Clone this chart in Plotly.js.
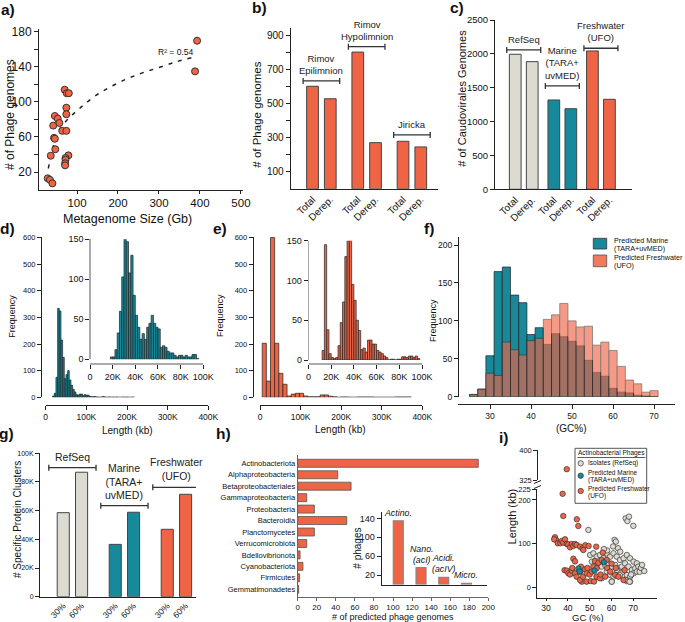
<!DOCTYPE html>
<html>
<head>
<meta charset="utf-8">
<script src="https://cdn.plot.ly/plotly-3.0.1.min.js"></script>
<style>html,body{margin:0;padding:0;background:#fff}#chart{width:685px;height:622px}</style>
</head>
<body>
<div id="chart"></div>
<script>
// a) phage genomes vs metagenome size
const metaSizeGb = [28.5, 34, 40, 36, 42, 46, 53, 57, 44, 46, 47, 64, 70, 75, 80, 74, 74, 74, 79, 72, 72, 71, 71, 393, 388];
const phageGenomes = [12.8, 11, 7, 38.6, 73, 84, 81, 76, 59, 58, 46, 67, 114, 110, 110, 93.5, 86, 67, 39, 36, 34, 30, 27.6, 170, 135];
const trendSize = [30, 42, 54, 75, 107, 148, 197, 246, 294, 343, 382];
const trendGenomes = [24, 49, 66, 79, 93, 108, 121, 131, 138.5, 146, 151];

// b) phage genomes per site
const sitesB = ['Rimov<br>Epilimnion', 'Rimov<br>Hypolimnion', 'Jiricka'];
const barLabels = ['Total', 'Derep.'];
const totalB = [600, 800, 278];
const derepB = [527, 270, 245];

// c) Caudovirales genomes
const groupsC = ['RefSeq', 'Marine<br>(TARA+<br>uvMED)', 'Freshwater<br>(UFO)'];
const totalC = [1994, 1319, 2043];
const derepC = [1885, 1190, 1329];

// d) marine genome length histogram (kb)
const dBinStart = 17, dBinSize = 4.1;
const dCounts = [5, 15, 75, 334, 324, 215, 150, 70, 85, 100, 65, 45, 30, 20, 10, 8, 12, 12, 6, 10, 8, 8, 3, 2, 2, 3, 1, 1, 0, 1, 3, 1, 0, 1, 1, 0, 1, 0, 1, 0, 0, 0, 1, 0, 1, 0, 0, 0, 1];
const dInsetStart = 18, dInsetSize = 2;
const dInsetCounts = [3, 3, 12, 33, 60, 103, 151, 147, 108, 130, 80, 55, 40, 25, 32, 25, 40, 45, 55, 45, 40, 38, 15, 17, 15, 10, 8, 8, 5, 3, 5, 5, 3, 5, 3, 3, 6, 6, 1];

// e) freshwater genome length histogram (kb)
const eBinStart = 5.5, eBinSize = 10.2;
const eCounts = [203, 61, 600, 203, 90, 49, 5, 12, 15, 15, 5, 2, 2, 2, 9, 9, 4, 2, 0, 1, 1, 0, 0, 1, 1, 1, 1, 0, 0, 0, 0, 0, 1, 1, 1, 1];
const eInsetStart = 12, eInsetSize = 2;
const eInsetCounts = [12, 145, 38, 8, 3, 2, 3, 18, 47, 73, 130, 150, 157, 95, 75, 50, 37, 13, 15, 10, 25, 25, 20, 20, 12, 10, 8, 5, 3, 0, 1, 1, 0, 1, 1, 4, 4, 3, 5, 5, 3, 5, 2];

// f) GC% histogram
const gcBinStart = 25, gcBinSize = 2;
const gcMarine = [3, 10, 54, 165, 171, 134, 124, 82, 91, 69, 83, 79, 73, 67, 48, 32, 27, 11, 6, 5, 2, 1, 0];
const gcFresh = [3, 10, 31, 28, 72, 62, 55, 74, 77, 102, 108, 123, 100, 92, 93, 68, 72, 61, 40, 22, 17, 6, 8];

// g) specific protein clusters (thousands)
const groupsG = ['RefSeq', 'Marine<br>(TARA+<br>uvMED)', 'Freshwater<br>(UFO)'];
const idLabels = ['30%', '60%'];
const clusters30 = [58.6, 36.5, 47];
const clusters60 = [86.8, 58.9, 71.4];

// h) predicted hosts
const hostTaxa = ['Actinobacteriota', 'Alphaproteobacteria', 'Betaproteobacteriales', 'Gammaproteobacteria', 'Proteobacteria', 'Bacteroidia', 'Planctomycetes', 'Verrucomicrobiota', 'Bdellovibrionota', 'Cyanobacteriota', 'Firmicutes', 'Gemmatimonadetes'];
const hostCounts = [189.5, 42, 56, 9.5, 17.5, 51.5, 17.5, 9.5, 2.5, 5.5, 2, 1];
const actinoGroups = ['<i>Actino.</i>', '<i>Nano.<br>(acI)</i>', '<i>Acidi.<br>(acIV)</i>', '<i>Micro.</i>'];
const actinoCounts = [135, 36, 15, 2.5];

// i) actinobacterial phages, GC (%) vs length (kb)
const isoGC = [50.2, 51.7, 53.2, 54.7, 56.3, 57.8, 59.4, 60.9, 62.4, 63.9, 65.5, 67.0, 68.5, 70.1, 71.6, 51.0, 52.5, 54.0, 55.5, 57.1, 58.6, 60.1, 61.7, 63.2, 64.7, 66.2, 67.8, 69.3, 70.8, 72.3, 57.8, 59.4, 60.9, 62.4, 63.9, 65.5, 67.0, 68.5, 70.1, 71.6, 60.1, 67.0, 68.5, 53.2, 55.5, 49.4, 66.5, 67.3, 68.0, 70.0, 61.4, 62.0, 60.7, 63.0, 60.1, 66.4, 68.3, 72.9, 73.5, 75.0, 74.0, 58.0, 64.0, 56.5, 69.0];
const isoLen = [74.6, 78.4, 70.8, 74.6, 67.0, 78.4, 70.8, 78.4, 70.8, 63.2, 67.0, 74.6, 67.0, 59.4, 55.6, 59.4, 51.8, 55.6, 48.0, 51.8, 55.6, 48.0, 51.8, 44.2, 48.0, 55.6, 48.0, 40.4, 44.2, 48.0, 36.6, 29.0, 25.2, 40.4, 29.0, 36.6, 29.0, 25.2, 32.8, 36.6, 13.8, 15.0, 13.8, 25.2, 21.4, 131.6, 158, 152, 162, 141, 109, 105, 94, 90, 13.7, 17.5, 13.7, 36.2, 45, 38, 52, 85, 82, 88, 30];
const marGC = [44.8, 45.4, 52.2, 56.5];
const marLen = [44, 37, 39, 58];
const freshGC = [34.1, 34.6, 33.7, 35.4, 36.5, 37.2, 37.9, 38.7, 39.5, 40.2, 41.0, 41.8, 42.5, 43.3, 44.0, 45.6, 46.8, 47.1, 48.0, 49.5, 53.0, 37.9, 44.1, 44.8, 37.6, 42.5, 43.3, 38.5, 39.5, 40.2, 41.0, 41.8, 42.0, 43.3, 44.0, 45.6, 46.0, 46.4, 45.6, 47.0, 47.9, 48.6, 48.6, 49.0, 50.0, 50.5, 51.0, 51.7, 52.0, 52.4, 53.2, 53.2, 54.0, 54.7, 55.0, 55.5, 56.0, 57.1, 57.8, 58.0, 59.4, 60.0, 61.7, 62.0, 63.2, 65.5, 66.0];
const freshLen = [114.9, 108.8, 110.3, 101.2, 101.2, 106.5, 102.7, 110.3, 99.6, 98.9, 92.0, 99.6, 95.1, 99.6, 97.4, 93.6, 89.8, 86.0, 97.0, 95.0, 93.5, 163.5, 156, 140.7, 214, 66, 60, 40, 38.9, 33, 30, 38.9, 45, 32.8, 25, 36.6, 48, 13.8, 17.6, 25, 41.9, 32.8, 13.8, 45, 30, 15, 36.6, 48.0, 14, 61, 44.2, 25.2, 57, 21.4, 30, 63.2, 80, 25.2, 63.2, 45, 36.6, 55, 29.0, 45, 25.2, 17.6, 40];
const freshUpperGC = [39.5];
const freshUpperLen = [352];

const ORANGE = '#EE6445', TEAL = '#17899B', GRAY = '#DCDBD2', DARK = '#222';
const W = 685, H = 622;
const px = x => x / W;
const py = y => 1 - y / H;
const dom = (a, b) => [a / W, b / W];
const domY = (top, bottom) => [1 - bottom / H, 1 - top / H];

const base = {showgrid: false, zeroline: false, showline: true, linecolor: DARK, linewidth: 1,
  ticks: 'outside', ticklen: 4, tickwidth: 1, tickcolor: DARK, fixedrange: true};
function axis(o) { return Object.assign({}, base, o); }

const traces = [];
const shapes = [];
const annotations = [];

function note(x, y, text, size, extra) {
  annotations.push(Object.assign({xref: 'paper', yref: 'paper', x: px(x), y: py(y), text: text,
    showarrow: false, xanchor: 'center', yanchor: 'middle', font: {size: size, color: '#111'}}, extra || {}));
}
function bracket(xa, ya, xc, half, y, label, size) {
  const ln = {color: '#333', width: 1.3};
  shapes.push({type: 'line', xref: xa, yref: ya, x0: xc - half, x1: xc + half, y0: y, y1: y, line: ln});
  [xc - half, xc + half].forEach(xx => shapes.push({type: 'line', xref: xa, yref: ya, x0: xx, x1: xx,
    ysizemode: 'pixel', yanchor: y, y0: -3, y1: 3, line: ln}));
  annotations.push({xref: xa, yref: ya, x: xc, y: y, yanchor: 'bottom', yshift: 3, text: label,
    showarrow: false, align: 'center', font: {size: size, color: '#222'}});
}
function hist(start, size, counts, xa, ya, color, opacity) {
  return {type: 'bar', x: counts.map((_, i) => start + size * (i + 0.5)), y: counts, width: size,
    xaxis: xa, yaxis: ya, opacity: opacity || 1, hoverinfo: 'skip',
    marker: {color: color, line: {color: DARK, width: 0.7}}};
}

// ---- a
traces.push({type: 'scatter', mode: 'lines', x: trendSize, y: trendGenomes, line: {color: DARK, width: 1.5, dash: '4px,6px', shape: 'spline'}, xaxis: 'x', yaxis: 'y', hoverinfo: 'skip'});
traces.push({type: 'scatter', mode: 'markers', x: metaSizeGb, y: phageGenomes, xaxis: 'x', yaxis: 'y', hoverinfo: 'skip',
  marker: {color: ORANGE, size: 7, line: {color: '#333', width: 1}}});

// ---- b
const posB = [], valB = [], txtB = [];
sitesB.forEach((s, g) => {
  [totalB[g], derepB[g]].forEach((v, k) => { posB.push(g * 2.55 + k); valB.push(v); txtB.push(barLabels[k]); });
});
traces.push({type: 'bar', x: posB, y: valB, width: 0.66, xaxis: 'x2', yaxis: 'y2', hoverinfo: 'skip',
  marker: {color: ORANGE, line: {color: '#444', width: 1}}});
const bracketYB = [631, 832, 315];
sitesB.forEach((s, g) => bracket('x2', 'y2', g * 2.55 + 0.5, 1.03, bracketYB[g], s, 9.5));

// ---- c
const posC = [], valC = [], txtC = [], colC = [];
const groupColors = [GRAY, TEAL, ORANGE];
groupsC.forEach((s, g) => {
  [totalC[g], derepC[g]].forEach((v, k) => { posC.push(g * 2.27 + k); valC.push(v); txtC.push(barLabels[k]); colC.push(groupColors[g]); });
});
traces.push({type: 'bar', x: posC, y: valC, width: 0.69, xaxis: 'x3', yaxis: 'y3', hoverinfo: 'skip',
  marker: {color: colC, line: {color: '#444', width: 1}}});
const bracketYC = [2058, 1526, 2083];
groupsC.forEach((s, g) => bracket('x3', 'y3', g * 2.27 + 0.5, 1.0, bracketYC[g], s, 9.5));

// ---- d, e
traces.push(hist(dBinStart, dBinSize, dCounts, 'x4', 'y4', TEAL));
traces.push(hist(dInsetStart, dInsetSize, dInsetCounts, 'x5', 'y5', TEAL));
traces.push(hist(eBinStart, eBinSize, eCounts, 'x6', 'y6', ORANGE));
traces.push(hist(eInsetStart, eInsetSize, eInsetCounts, 'x7', 'y7', ORANGE));

// ---- f
traces.push(hist(gcBinStart, gcBinSize, gcMarine, 'x8', 'y8', TEAL));
traces.push(hist(gcBinStart, gcBinSize, gcFresh, 'x8', 'y8', ORANGE, 0.65));

// ---- g
const posG = [], valG = [], txtG = [], colG = [];
groupsG.forEach((s, g) => {
  [clusters30[g], clusters60[g]].forEach((v, k) => { posG.push(g * 2.84 + k); valG.push(v); txtG.push(idLabels[k]); colG.push(groupColors[g]); });
});
traces.push({type: 'bar', x: posG, y: valG, width: 0.66, xaxis: 'x9', yaxis: 'y9', hoverinfo: 'skip',
  marker: {color: colG, line: {color: '#444', width: 1}}});
const bracketYG = [90, 63.5, 76.3];
groupsG.forEach((s, g) => bracket('x9', 'y9', g * 2.84 + 0.5, 1.29, bracketYG[g], s, 10.5));

// ---- h
traces.push({type: 'bar', orientation: 'h', y: hostTaxa, x: hostCounts, width: 0.7, xaxis: 'x10', yaxis: 'y10', hoverinfo: 'skip',
  marker: {color: ORANGE, line: {color: '#555', width: 0.8}}});
const posH = actinoGroups.map((_, i) => i);
traces.push({type: 'bar', x: posH, y: actinoCounts, width: 0.44, xaxis: 'x11', yaxis: 'y11', hoverinfo: 'skip',
  marker: {color: ORANGE, line: {color: '#888', width: 1.2}}});
actinoGroups.forEach((t, i) => annotations.push({xref: 'x11', yref: 'y11', x: i, y: actinoCounts[i], yanchor: 'bottom', yshift: 1,
  text: t, showarrow: false, align: 'center', font: {size: 8.8, color: '#111'}}));

// ---- i
const iMarker = c => ({color: c, size: 5.5, line: {color: '#333', width: 0.7}});
traces.push({type: 'scatter', mode: 'markers', x: isoGC, y: isoLen, xaxis: 'x12', yaxis: 'y12', marker: iMarker(GRAY), hoverinfo: 'skip'});
traces.push({type: 'scatter', mode: 'markers', x: freshGC, y: freshLen, xaxis: 'x12', yaxis: 'y12', marker: iMarker(ORANGE), hoverinfo: 'skip'});
traces.push({type: 'scatter', mode: 'markers', x: marGC, y: marLen, xaxis: 'x12', yaxis: 'y12', marker: iMarker(TEAL), hoverinfo: 'skip'});
traces.push({type: 'scatter', mode: 'markers', x: freshUpperGC, y: freshUpperLen, xaxis: 'x12', yaxis: 'y13', marker: iMarker(ORANGE), hoverinfo: 'skip'});

// legends drawn by hand (f and i)
shapes.push({type: 'rect', xref: 'paper', yref: 'paper', x0: px(593.3), x1: px(606.7), y0: py(249), y1: py(238.3), fillcolor: TEAL, line: {color: '#333', width: 0.8}});
shapes.push({type: 'rect', xref: 'paper', yref: 'paper', x0: px(593.3), x1: px(606.7), y0: py(266.7), y1: py(255), fillcolor: ORANGE, opacity: 0.85, line: {color: '#333', width: 0.8}});
note(611.7, 240.7, 'Predicted Marine', 7.2, {xanchor: 'left'});
note(611.7, 248.3, '(TARA+uvMED)', 7.2, {xanchor: 'left'});
note(611.7, 257.3, 'Predicted Freshwater', 7.2, {xanchor: 'left'});
note(611.7, 265, '(UFO)', 7.2, {xanchor: 'left'});

shapes.push({type: 'rect', xref: 'paper', yref: 'paper', x0: px(575), x1: px(646.7), y0: py(503.3), y1: py(448.3), fillcolor: 'white', line: {color: '#555', width: 1}});
shapes.push({type: 'line', xref: 'paper', yref: 'paper', x0: px(577.5), x1: px(645.5), y0: py(457.5), y1: py(457.5), line: {color: '#333', width: 0.8}});
note(611.5, 452.5, 'Actinobacterial Phages', 6.5);
[[GRAY, 463.3], [TEAL, 475.7], [ORANGE, 491]].forEach(([c, y]) => shapes.push({type: 'circle', xref: 'paper', yref: 'paper',
  xsizemode: 'pixel', ysizemode: 'pixel', xanchor: px(580.7), yanchor: py(y), x0: -2.7, x1: 2.7, y0: -2.7, y1: 2.7,
  fillcolor: c, line: {color: '#333', width: 0.7}}));
note(585.5, 463.3, 'Isolates (RefSeq)', 6.5, {xanchor: 'left'});
note(585.5, 472.7, 'Predicted Marine', 6.5, {xanchor: 'left'});
note(585.5, 480, '(TARA+uvMED)', 6.5, {xanchor: 'left'});
note(585.5, 488.3, 'Predicted Freshwater', 6.5, {xanchor: 'left'});
note(585.5, 496, '(UFO)', 6.5, {xanchor: 'left'});

// axis-break marks in i
[482, 487].forEach(y => shapes.push({type: 'line', xref: 'paper', yref: 'paper', x0: px(534), x1: px(541), y0: py(y + 1.5), y1: py(y - 1.5), line: {color: DARK, width: 1}}));

// panel letters
[['a)', 8, 10], ['b)', 259, 8], ['c)', 457, 8], ['d)', 7, 228], ['e)', 220, 228], ['f)', 429, 228],
 ['g)', 6, 433], ['h)', 223, 433], ['i)', 503, 437]].forEach(([t, x, y]) => note(x, y, '<b>' + t + '</b>', 15.5));

// axis titles
note(10, 115, '# of Phage genomes', 12, {textangle: -90});
note(128, 219, 'Metagenome Size (Gb)', 12.5);
note(256.7, 115, '# of Phage genomes', 11.5, {textangle: -90});
note(461.7, 98, '# of Caudovirales Genomes', 11, {textangle: -90});
note(11.7, 316, 'Frequency', 9, {textangle: -90});
note(127, 430, 'Length (kb)', 10);
note(220, 316, 'Frequency', 9, {textangle: -90});
note(340, 429, 'Length (kb)', 10);
note(433, 321, 'Frequency', 9, {textangle: -90});
note(571, 428, '(GC%)', 10);
note(17, 520, '# Specific Protein Clusters', 10, {textangle: -90});
note(393, 616.5, '# of predicted phage genomes', 9);
note(356.7, 548, '# phages', 10, {textangle: -90});
note(588, 617.5, 'GC (%)', 9.5);
note(511.7, 516.7, 'Length (kb)', 11, {textangle: -90});
note(175, 52, 'R² = 0.54', 8.5);

const gray = {linecolor: '#aaa', linewidth: 1.5};
const kTicks = v => v.map(t => t === 0 ? '0' : t + 'K');

const layout = {
  width: W, height: H, margin: {l: 0, r: 0, t: 0, b: 0},
  paper_bgcolor: 'white', plot_bgcolor: 'rgba(0,0,0,0)', showlegend: false,
  barmode: 'overlay', bargap: 0,
  font: {family: 'Liberation Sans, Arial, sans-serif', color: '#111'},
  // a
  xaxis: axis({domain: dom(39, 243), range: [7.3, 505], tickvals: [100, 200, 300, 400, 500], tickfont: {size: 11.5}, ticklen: 3, anchor: 'y'}),
  yaxis: axis({domain: domY(29, 189.5), range: [0, 183.4], tickvals: [20, 40, 60, 80, 100, 120, 140, 160, 180],
    ticktext: ['20', '', '60', '', '100', '', '140', '', '180'], tickfont: {size: 12}, anchor: 'x'}),
  // b
  xaxis2: axis({domain: dom(290.7, 438), range: [-1.23, 7.07], tickvals: posB, ticktext: txtB, tickangle: -45, ticks: '', tickfont: {size: 10}, anchor: 'y2'}),
  yaxis2: axis({domain: domY(28, 188.8), range: [0, 941], tickvals: [100, 200, 300, 400, 500, 600, 700, 800, 900],
    ticktext: ['100', '', '300', '', '500', '', '700', '', '900'], tickfont: {size: 10}, anchor: 'x2'}),
  // c
  xaxis3: axis({domain: dom(495, 631.7), range: [-1.19, 6.85], tickvals: posC, ticktext: txtC, tickangle: -45, ticks: '', tickfont: {size: 10}, anchor: 'y3'}),
  yaxis3: axis({domain: domY(20, 189.3), range: [0, 2500], tickvals: [0, 500, 1000, 1500, 2000, 2500], tickfont: {size: 9.5}, anchor: 'x3'}),
  // d main + inset
  xaxis4: axis({domain: dom(45.7, 208.3), range: [0, 400], tickvals: [0, 100, 200, 300, 400], ticktext: kTicks([0, 100, 200, 300, 400]), tickfont: {size: 8.5}, anchor: 'free', position: py(405)}),
  yaxis4: axis({domain: domY(237, 397.3), range: [0, 602], tickvals: [0, 100, 200, 300, 400, 500, 600], tickfont: {size: 7.5}, anchor: 'free', position: px(41)}),
  xaxis5: axis(Object.assign({domain: dom(90, 203.3), range: [0, 100], tickvals: [0, 20, 40, 60, 80, 100], ticktext: kTicks([0, 20, 40, 60, 80, 100]), tickfont: {size: 9}, anchor: 'free', position: py(363.3)}, gray)),
  yaxis5: axis(Object.assign({domain: domY(239.3, 359.3), range: [0, 150], tickvals: [0, 50, 100, 150], tickfont: {size: 9}, anchor: 'free', position: px(89.3)}, gray)),
  // e main + inset
  xaxis6: axis({domain: dom(260, 422.3), range: [0, 400], tickvals: [0, 100, 200, 300, 400], ticktext: kTicks([0, 100, 200, 300, 400]), tickfont: {size: 8.5}, anchor: 'free', position: py(405)}),
  yaxis6: axis({domain: domY(237, 397.3), range: [0, 602], tickvals: [0, 100, 200, 300, 400, 500, 600], tickfont: {size: 7.5}, anchor: 'free', position: px(252.7)}),
  xaxis7: axis(Object.assign({domain: dom(308.5, 422), range: [0, 100], tickvals: [0, 20, 40, 60, 80, 100], ticktext: kTicks([0, 20, 40, 60, 80, 100]), tickfont: {size: 9}, anchor: 'free', position: py(363.3)}, gray)),
  yaxis7: axis(Object.assign({domain: domY(240.7, 360), range: [0, 150], tickvals: [0, 50, 100, 150], tickfont: {size: 9}, anchor: 'free', position: px(307.7)}, gray)),
  // f
  xaxis8: axis({domain: dom(458, 675), range: [22.2, 75.1], tickvals: [30, 40, 50, 60, 70], tickfont: {size: 8.5}, anchor: 'free', position: py(404)}),
  yaxis8: axis({domain: domY(236.7, 396.7), range: [0, 211], tickvals: [0, 50, 100, 150, 200], tickfont: {size: 8.5}, anchor: 'free', position: px(458)}),
  // g
  xaxis9: axis({domain: dom(40, 196), range: [-1.27, 7.25], tickvals: posG, ticktext: txtG, tickangle: -45, ticks: '', tickfont: {size: 8.5}, anchor: 'y9'}),
  yaxis9: axis({domain: domY(453.3, 596.7), range: [0, 100], tickvals: [0, 20, 40, 60, 80, 100], ticktext: kTicks([0, 20, 40, 60, 80, 100]), tickfont: {size: 7}, anchor: 'x9'}),
  // h main + inset
  xaxis10: axis({domain: dom(297.7, 488.3), range: [0, 200], tickvals: [0, 20, 40, 60, 80, 100, 120, 140, 160, 180, 200], tickfont: {size: 8}, ticklen: 3, linecolor: '#666', tickcolor: '#666', anchor: 'y10'}),
  yaxis10: axis({domain: domY(455, 596.7), type: 'category', categoryarray: hostTaxa, range: [11.65, -0.725], ticks: '', tickfont: {size: 7.5}, linecolor: '#666', anchor: 'x10'}),
  xaxis11: axis({domain: dom(381.7, 486.7), range: [-0.73, 3.89], showticklabels: false, ticks: '', anchor: 'y11'}),
  yaxis11: axis({domain: domY(512.3, 584.5), range: [0, 153], tickvals: [20, 60, 100, 140], tickfont: {size: 9}, anchor: 'x11'}),
  // i broken axis
  xaxis12: axis({domain: dom(537.3, 656.7), range: [26, 80.7], tickvals: [30, 40, 50, 60, 70], tickfont: {size: 8.5}, ticklen: 2, anchor: 'y12'}),
  yaxis12: axis({domain: domY(489, 597.7), range: [-22.8, 225], tickvals: [0, 100, 200, 225], tickfont: {size: 7.5}, anchor: 'x12'}),
  yaxis13: axis({domain: domY(450, 480), range: [325, 400], tickvals: [325, 400], tickfont: {size: 7.5}, anchor: 'free', position: px(537.3)}),
  shapes: shapes,
  annotations: annotations
};

Plotly.newPlot('chart', traces, layout, {staticPlot: true, displayModeBar: false});
</script>
</body>
</html>
